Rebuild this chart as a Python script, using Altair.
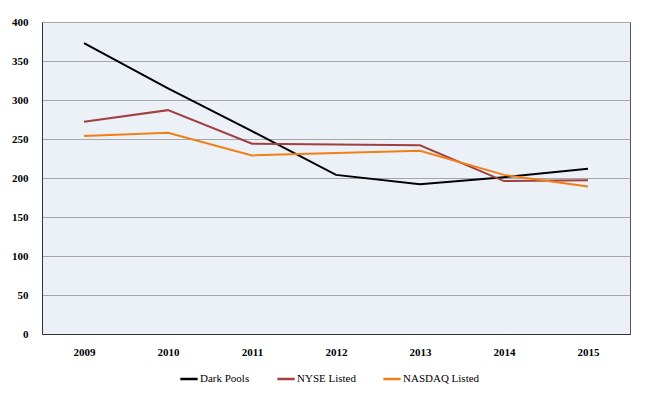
import altair as alt
import pandas as pd

years = ["2009", "2010", "2011", "2012", "2013", "2014", "2015"]
dark_pools = [373, 315, 260, 204, 192, 201, 212]
nyse = [272, 287, 244, 243, 242, 196, 197]
nasdaq = [254, 258, 229, 232, 235, 204, 189]
series = ["Dark Pools", "NYSE Listed", "NASDAQ Listed"]
colors = ["#000000", "#A04040", "#F07F16"]

rows = []
for name, vals in zip(series, [dark_pools, nyse, nasdaq]):
    for y, v in zip(years, vals):
        rows.append({"year": y, "value": v, "series": name})
df = pd.DataFrame(rows)

font = "Liberation Serif, Times New Roman, serif"

chart = alt.Chart(df).mark_line(strokeWidth=2).encode(
    x=alt.X("year:N", sort=years, title=None,
            scale=alt.Scale(paddingInner=1, paddingOuter=0.5),
            axis=alt.Axis(labelAngle=0, ticks=False, domain=True, domainColor="#333333",
                          labelFont=font, labelFontSize=11, labelFontWeight="bold",
                          labelColor="#000000", labelPadding=12, grid=False)),
    y=alt.Y("value:Q", title=None,
            scale=alt.Scale(domain=[0, 400], nice=False),
            axis=alt.Axis(values=[0, 50, 100, 150, 200, 250, 300, 350, 400],
                          ticks=False, domainColor="#333333", gridColor="#A6A6A6",
                          labelFont=font, labelFontSize=11, labelFontWeight="bold",
                          labelColor="#000000", labelPadding=14)),
    color=alt.Color("series:N", sort=series,
                    scale=alt.Scale(domain=series, range=colors),
                    legend=alt.Legend(title=None, orient="none", direction="horizontal",
                                      legendX=137, legendY=347,
                                      symbolType="stroke", symbolStrokeWidth=2.5, symbolSize=300,
                                      labelFont=font, labelFontSize=11, labelColor="#000000",
                                      columnPadding=22, labelOffset=1)),
).properties(
    width=588, height=312,
    background="white",
    autosize=alt.AutoSizeParams(type="none"),
    padding={"left": 34, "top": 14, "right": 10, "bottom": 52},
).configure_view(
    fill="#ECF0F7", stroke="#555555", strokeWidth=1
)

chart.save("out.html", embed_options={"renderer": "svg", "actions": False})
